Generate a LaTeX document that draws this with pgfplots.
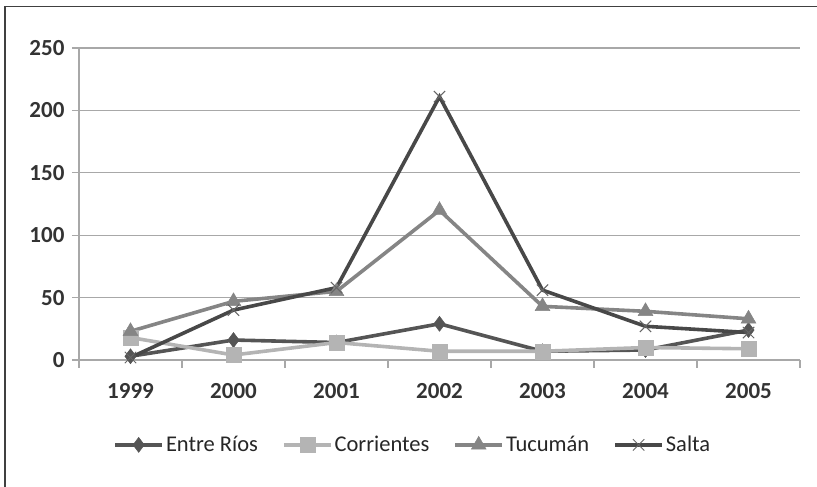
\documentclass[border=0pt]{standalone}
\usepackage{pgfplots}
\pgfplotsset{compat=1.18}
\usepackage{fontspec}
\setmainfont{Carlito}
\definecolor{cER}{HTML}{555555}
\definecolor{cCO}{HTML}{B4B4B4}
\definecolor{cTU}{HTML}{858585}
\definecolor{cSA}{HTML}{484848}
\definecolor{cGR}{HTML}{A8A8A8}
\begin{document}
\begin{tikzpicture}[x=1pt,y=1pt]
\path[use as bounding box] (0,0) rectangle (817,487);
\draw[line width=1.6pt,color=black!75] (5,0) -- (5,480.5) -- (817,480.5);
\begin{axis}[
  at={(79pt,127pt)}, anchor=south west,
  scale only axis, width=721pt, height=312pt,
  xmin=-0.5, xmax=6.5, ymin=0, ymax=250,
  xtick={0,...,6},
  xticklabels={1999,2000,2001,2002,2003,2004,2005},
  minor xtick={-0.5,0.5,...,6.5},
  ytick={0,50,...,250},
  axis x line=bottom, axis y line=left,
  axis line style={-, color=cGR, line width=1.2pt},
  major x tick style={draw=none},
  minor tick length=8pt,
  major tick length=7pt,
  tick align=outside,
  every tick/.style={color=cGR, line width=1.2pt},
  ymajorgrids,
  major grid style={color=cGR, line width=1.2pt},
  ticklabel style={font=\fontsize{23}{26}\selectfont\bfseries, color=black!80},
  /pgf/number format/assume math mode=true,
  xticklabel style={yshift=-13pt},
  yticklabel style={xshift=-4pt},
  clip=false,
  legend style={at={(0.463,-0.272)}, anchor=center, draw=none, fill=none,
    font=\fontsize{22.5}{26}\selectfont, text=black!85, legend columns=-1,
    /tikz/every even column/.append style={column sep=22pt}},
  legend image code/.code={
    \draw[#1] (0pt,0pt) -- (47pt,0pt);
    \draw[#1] plot coordinates {(23.5pt,0pt)};
  },
  legend cell align=left,
]
\addplot[color=cER, line width=3.6pt, mark=diamond*, mark size=7.5pt, mark options={solid, line width=0.5pt}]
  coordinates {(0,3) (1,16) (2,14) (3,29) (4,7) (5,8) (6,24)};
\addlegendentry{Entre Ríos}
\addplot[color=cCO, line width=3.6pt, mark=square*, mark size=7.5pt, mark options={solid, line width=0.5pt}]
  coordinates {(0,18) (1,4) (2,14) (3,7) (4,7) (5,10) (6,9)};
\addlegendentry{Corrientes}
\addplot[color=cTU, line width=3.6pt, mark=triangle*, mark size=8.5pt, mark options={solid, line width=0.5pt}]
  coordinates {(0,23) (1,47) (2,55) (3,120) (4,43) (5,39) (6,33)};
\addlegendentry{Tucumán}
\addplot[color=cSA, line width=3.6pt, mark=x, mark size=8pt, mark options={solid, line width=1pt, color=black!60}]
  coordinates {(0,2) (1,40) (2,58) (3,211) (4,56) (5,27) (6,22)};
\addlegendentry{Salta}
\end{axis}
\end{tikzpicture}
\end{document}
